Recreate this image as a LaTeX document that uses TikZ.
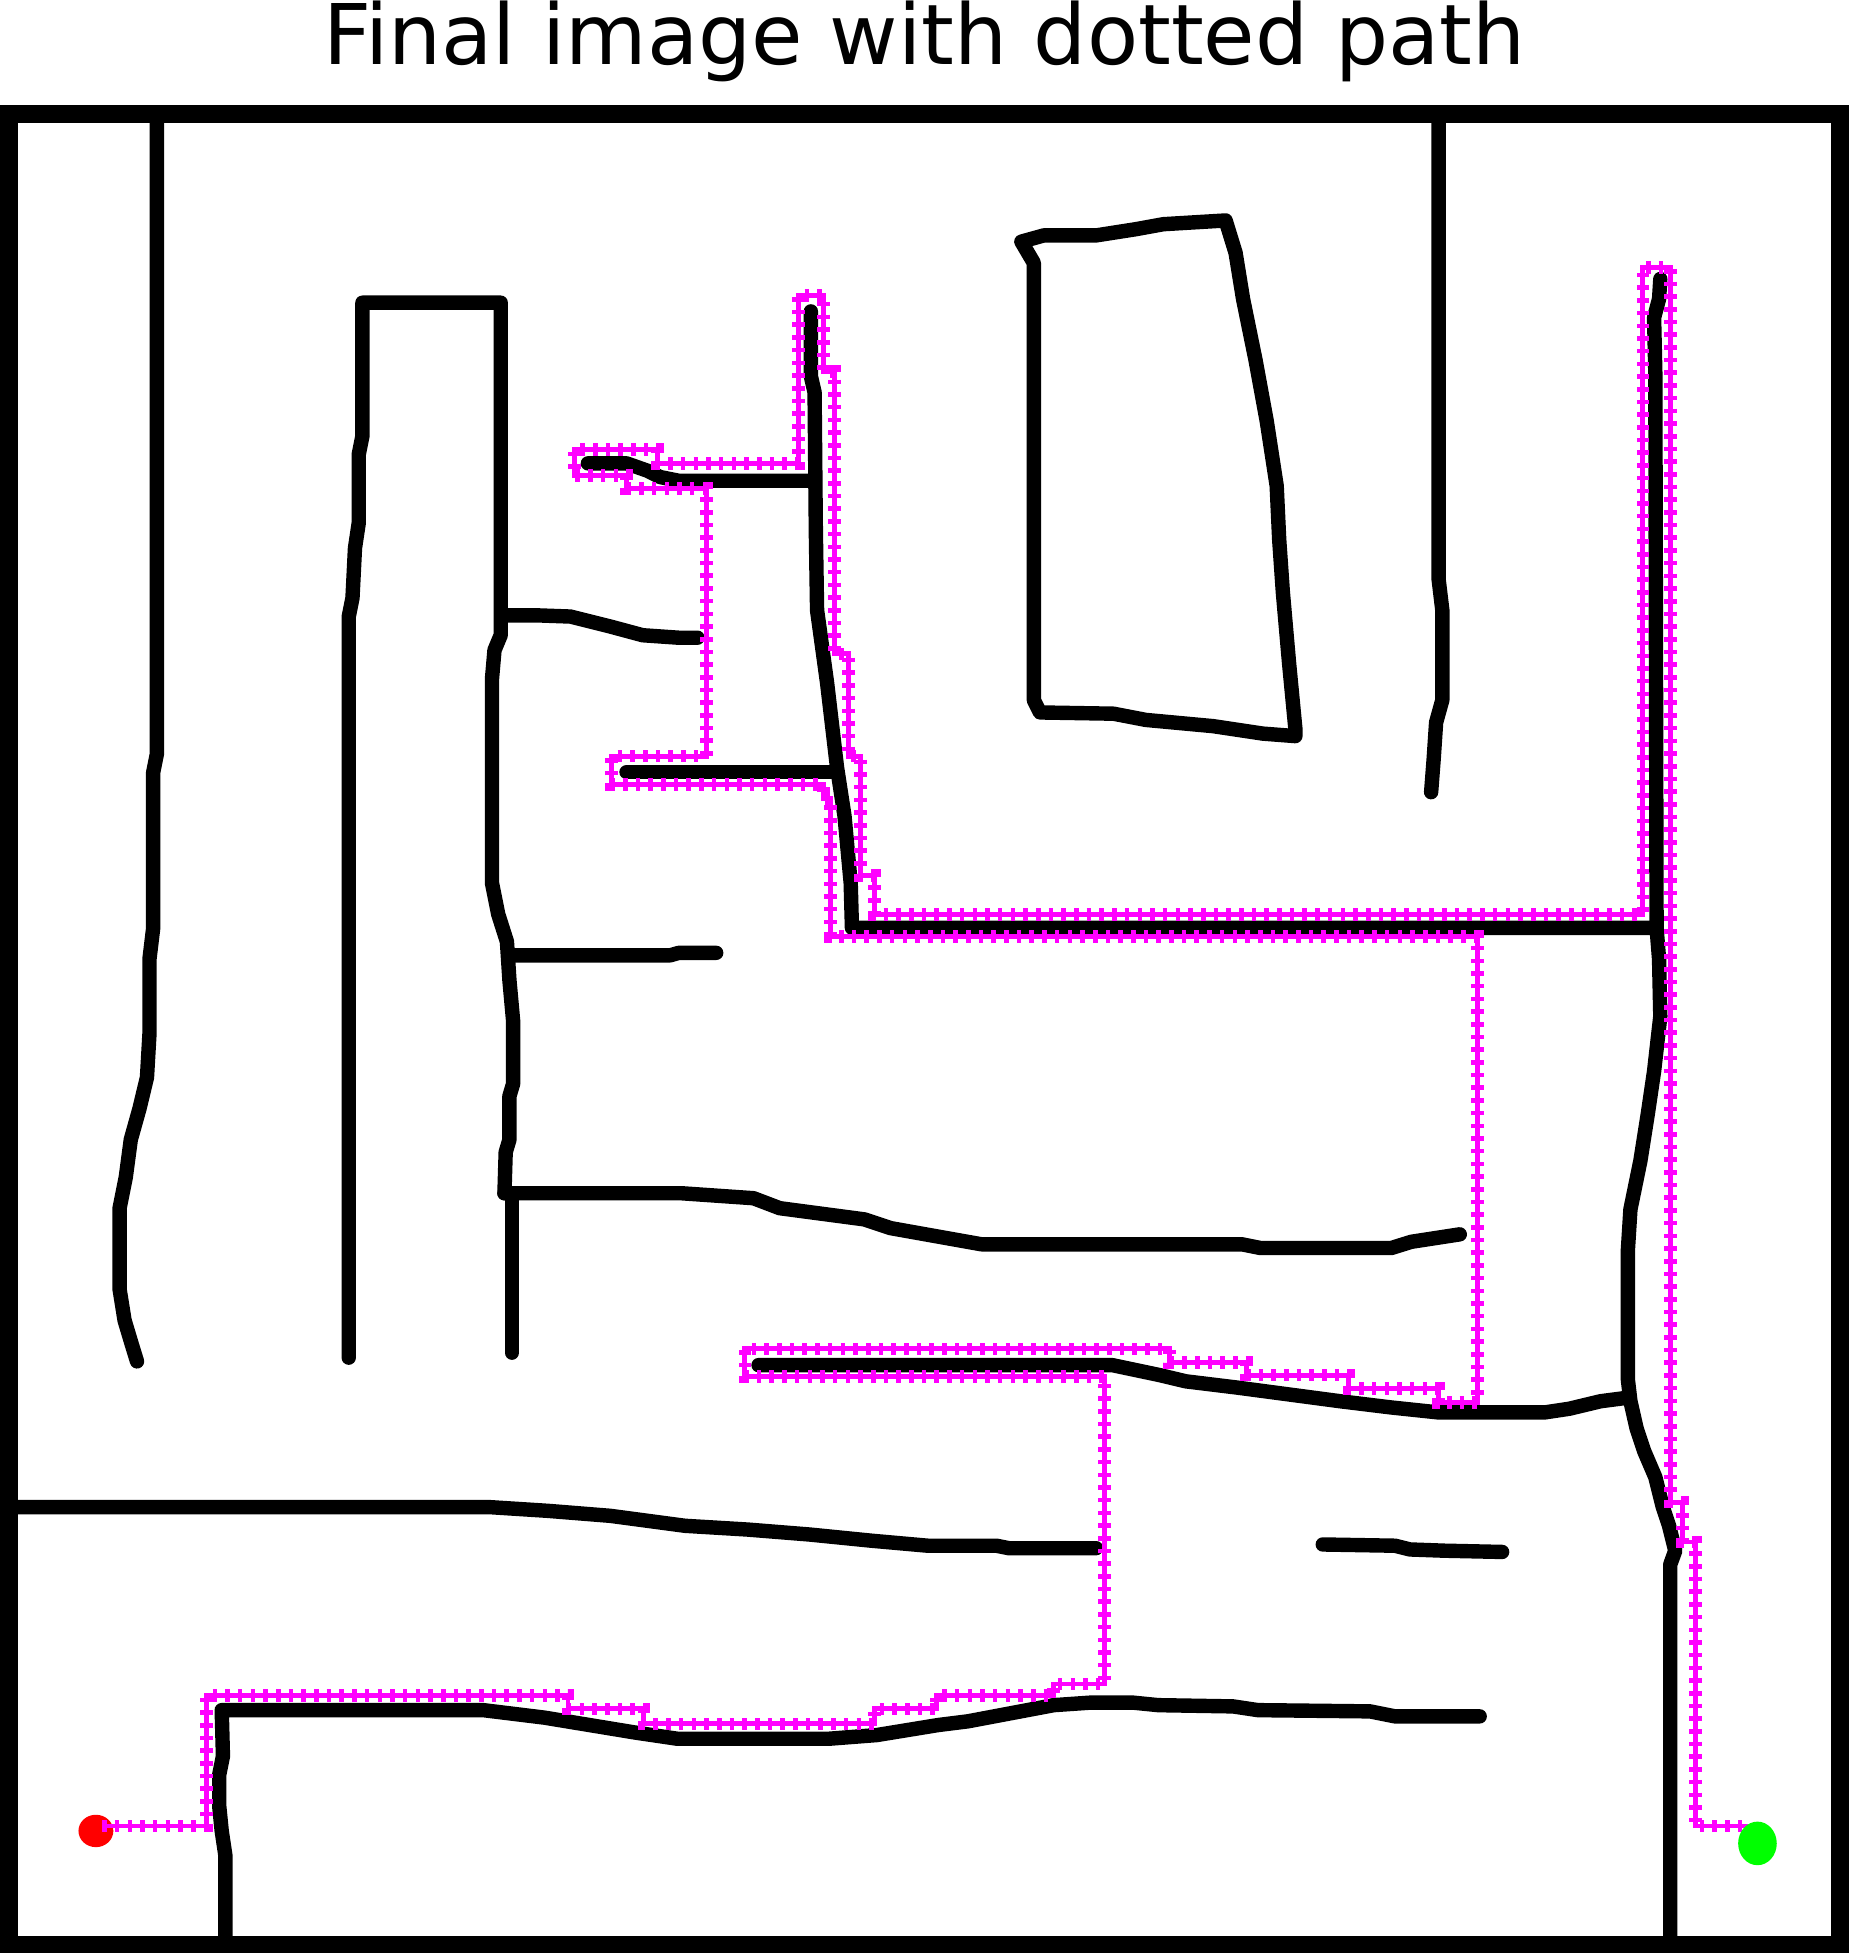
\documentclass[tikz,border=0pt]{standalone}
\usepackage{fontspec}
\setmainfont{DejaVu Sans}
\begin{document}
\begin{tikzpicture}[x=0.012453cm,y=-0.012453cm,
  wall/.style={draw=black,line width=4.1pt,line cap=round,line join=round},
  frame/.style={draw=black,line width=5.1pt},
  spine/.style={draw={rgb,255:red,255;green,0;blue,255},line width=1.4pt,line join=miter},
  ticks/.style={draw={rgb,255:red,255;green,0;blue,255},line width=3.6pt,dash pattern=on 1.3pt off 2.31pt}]
\useasboundingbox (0,0) rectangle (1484,1568);
\node[anchor=base,inner sep=0pt,font=\fontsize{23.8}{28}\selectfont] (title) at (742,52) {Final image with dotted path};
\draw[frame] (7,91.5) rectangle (1477.5,1561.5);
% W1
\draw[wall] (126,99) -- (126,605) -- (123,620) -- (123,745) -- (120,770) -- (120,830) -- (118,865) -- (112,890) -- (105,915) -- (101,945) -- (96,970) -- (96,1035) -- (100,1060) -- (106,1080) -- (110,1093);
% W2 tall shape
\draw[wall] (280,1090) -- (280,495) -- (283,480) -- (285,440) -- (288,420) -- (288,365) -- (291,350) -- (291,243) -- (402,243) -- (402,510) -- (397,522) -- (395,545) -- (395,709) -- (400,734) -- (407,756) -- (409,787) -- (412,820) -- (412,870) -- (409,880) -- (409,915) -- (406,925) -- (405,958);
\draw[wall] (405,958) -- (547,958) -- (605,962) -- (626,970) -- (694,979) -- (715,986) -- (788,999) -- (997,999) -- (1012,1002) -- (1117,1002) -- (1133,997) -- (1172,991);
\draw[wall] (411,960) -- (411,1086);
% W3
\draw[wall] (403,494) -- (430,494) -- (458,495) -- (490,503) -- (516,510) -- (545,512) -- (560,512);
% W4 branch
\draw[wall] (472,372) -- (503,372) -- (520,378) -- (530,383) -- (545,386) -- (652,386);
\draw[wall] (651,250) -- (651,302) -- (654,315) -- (655,426) -- (656,490) -- (664,548) -- (672,616) -- (678,655) -- (683,709) -- (684,745) -- (1330,745);
% W5
\draw[wall] (503,620) -- (671,620);
% W6
\draw[wall] (412,767) -- (538,767) -- (545,765) -- (575,765);
% W8
\draw[wall] (609,1096) -- (893,1096) -- (931,1104) -- (952,1109) -- (993,1114) -- (1076,1125) -- (1117,1130) -- (1155,1134) -- (1240,1134) -- (1260,1131) -- (1285,1125) -- (1308,1122);
% W9
\draw[wall] (1333,224) -- (1332,240) -- (1328,255) -- (1329,300) -- (1330,745) -- (1332,770) -- (1333,816) -- (1328,860) -- (1323,894) -- (1317,932) -- (1309,971) -- (1307,1003) -- (1307,1108) -- (1309,1125) -- (1314,1147) -- (1320,1165) -- (1329,1186) -- (1335,1210) -- (1340,1225) -- (1345,1245) -- (1341,1256) -- (1341,1555);
% W10
\draw[wall] (1155,99) -- (1155,465) -- (1158,490) -- (1158,562) -- (1153,580) -- (1151,610) -- (1149,636);
% W11 quadrilateral
\draw[wall] (820,194) -- (838,189) -- (880,189) -- (912,184) -- (934,180) -- (984,177) -- (992,203) -- (998,240) -- (1008,289) -- (1017,338) -- (1025,390) -- (1027,433) -- (1030,476) -- (1035,533) -- (1040,585) -- (1040,591) -- (1014,589) -- (974,583) -- (920,578) -- (894,573) -- (835,572) -- (830,562) -- (830,211) -- cycle;
% W12
\draw[wall] (14,1210) -- (393,1210) -- (440,1213) -- (490,1217) -- (520,1221) -- (550,1225) -- (600,1228) -- (650,1232) -- (700,1237) -- (745,1241) -- (800,1241) -- (810,1243) -- (880,1243);
% W13
\draw[wall] (1062,1240) -- (1120,1241) -- (1132,1244) -- (1160,1245) -- (1206,1246);
% W14
\draw[wall] (181,1555) -- (181,1490) -- (178,1470) -- (176,1450) -- (176,1425) -- (179,1410) -- (178,1373) -- (388,1373) -- (437,1379) -- (510,1391) -- (544,1396) -- (665,1396) -- (704,1393) -- (753,1385) -- (777,1382) -- (846,1369) -- (875,1367) -- (910,1367) -- (930,1369) -- (990,1370) -- (1010,1373) -- (1100,1374) -- (1120,1378) -- (1188,1378);
% start blob
\fill[red] (77,1470) ellipse [x radius=14, y radius=13];
% path
\draw[spine] (82,1466) -- (166,1466) -- (166,1361) -- (456,1361) -- (456,1372) -- (517,1372) -- (517,1384) -- (702,1384) -- (702,1372) -- (752,1372) -- (752,1361) -- (846,1361) -- (846,1352) -- (887,1352) -- (887,1105) -- (598,1105) -- (598,1083) -- (939,1083) -- (939,1094) -- (1001,1094) -- (1001,1104) -- (1083,1104) -- (1083,1115) -- (1155,1115) -- (1155,1126) -- (1186,1126) -- (1186,752) -- (667,752) -- (667,641) -- (661,641) -- (661,630) -- (491,630) -- (491,607) -- (567,607) -- (567,392) -- (503,392) -- (503,382) -- (461,382) -- (461,361) -- (528,361) -- (528,372) -- (641,372) -- (641,237) -- (661,237) -- (661,298) -- (670,298) -- (670,525) -- (681,525) -- (681,607) -- (691,607) -- (691,703) -- (702,703) -- (702,734) -- (1319,734) -- (1319,215) -- (1341,215) -- (1341,1206) -- (1351,1206) -- (1351,1238) -- (1361,1238) -- (1361,1466) -- (1403,1466);
\draw[ticks] (82,1466) -- (166,1466) -- (166,1361) -- (456,1361) -- (456,1372) -- (517,1372) -- (517,1384) -- (702,1384) -- (702,1372) -- (752,1372) -- (752,1361) -- (846,1361) -- (846,1352) -- (887,1352) -- (887,1105) -- (598,1105) -- (598,1083) -- (939,1083) -- (939,1094) -- (1001,1094) -- (1001,1104) -- (1083,1104) -- (1083,1115) -- (1155,1115) -- (1155,1126) -- (1186,1126) -- (1186,752) -- (667,752) -- (667,641) -- (661,641) -- (661,630) -- (491,630) -- (491,607) -- (567,607) -- (567,392) -- (503,392) -- (503,382) -- (461,382) -- (461,361) -- (528,361) -- (528,372) -- (641,372) -- (641,237) -- (661,237) -- (661,298) -- (670,298) -- (670,525) -- (681,525) -- (681,607) -- (691,607) -- (691,703) -- (702,703) -- (702,734) -- (1319,734) -- (1319,215) -- (1341,215) -- (1341,1206) -- (1351,1206) -- (1351,1238) -- (1361,1238) -- (1361,1466) -- (1403,1466);
% goal blob
\fill[green] (1411,1480) ellipse [x radius=15.5, y radius=17.5];
\end{tikzpicture}
\end{document}
